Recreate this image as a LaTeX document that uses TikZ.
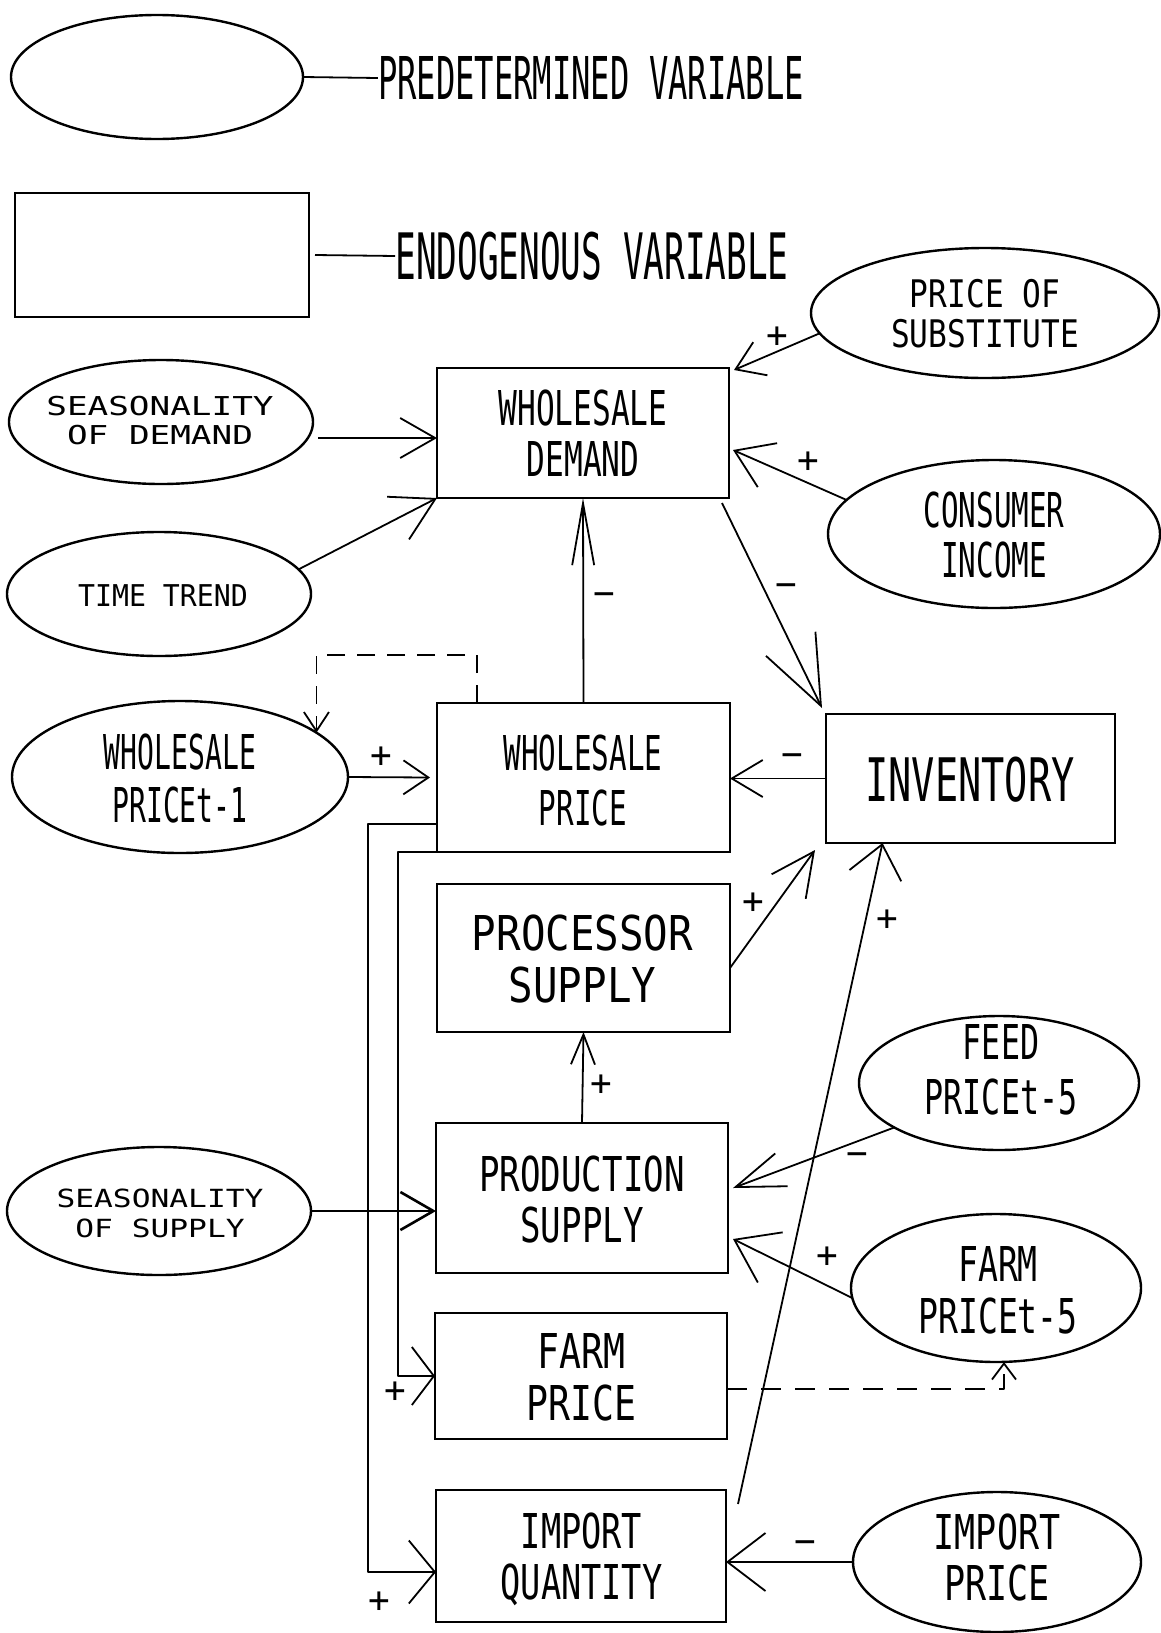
\documentclass[tikz,border=0pt]{standalone}
\usepackage{fontspec}
\usepackage{graphicx}
\usetikzlibrary{arrows.meta,shapes.geometric,calc}
\newfontfamily\plotfont{DejaVu Sans Mono}
\newcommand{\tx}[4]{\fontsize{#2}{#3}\plotfont
  \setbox\strutbox\hbox{\vrule height\dimexpr(#3pt+0.729\dimexpr#2pt\relax)/2\relax depth\dimexpr(#3pt-0.729\dimexpr#2pt\relax)/2\relax width0pt}%
  \scalebox{#1}[1]{\begin{tabular}{@{}c@{}}#4\end{tabular}}}
\tikzset{
  shp/.style={draw, line width=2.4pt, inner sep=0pt, outer sep=0pt},
  rbox/.style={shp, rectangle},
  ell/.style={shp, ellipse},
  lbl/.style={inner sep=0pt},
  sgn/.style={inner sep=0pt, font=\fontsize{36}{38}\plotfont},
  con/.style={line width=1.8pt, line join=round},
  dash1/.style={dash pattern=on 18pt off 12pt},
}
\begin{document}
\begin{tikzpicture}[x=1pt,y=-1pt]
\path[fill=white] (0,0) rectangle (1161,1633);
\useasboundingbox (0,0) rectangle (1161,1633);

% legend
\node[ell, minimum width=292pt, minimum height=124pt] (leg1) at (157,77) {};
\node[rbox, minimum width=294pt, minimum height=124pt] (leg2) at (162,255) {};
\node[lbl] (leg1t) at (591,78) {\tx{0.545}{59}{62}{PREDETERMINED VARIABLE}};
\node[lbl] (leg2t) at (592,256) {\tx{0.537}{64}{66}{ENDOGENOUS VARIABLE}};
\draw[con] (leg1.east) -- (leg1t.west);
\draw[con] ([xshift=6pt]leg2.east) -- (leg2t.west);

% predetermined variables (ellipses)
\node[ell, minimum width=348pt, minimum height=130pt] (pos) at (985,313) {};
\node[ell, minimum width=304pt, minimum height=124pt] (sod) at (161,422) {};
\node[ell, minimum width=304pt, minimum height=124pt] (tt) at (159,594) {};
\node[ell, minimum width=332pt, minimum height=148pt] (ci) at (994,534) {};
\node[ell, minimum width=336pt, minimum height=152pt] (wpt) at (180,777) {};
\node[ell, minimum width=280pt, minimum height=134pt] (feed) at (999,1083) {};
\node[ell, minimum width=304pt, minimum height=128pt] (sos) at (159,1211) {};
\node[ell, minimum width=290pt, minimum height=148pt] (fpt) at (996,1288) {};
\node[ell, minimum width=288pt, minimum height=140pt] (ip) at (997,1562) {};

% endogenous variables (boxes)
\node[rbox, minimum width=292pt, minimum height=130pt] (wd) at (583,433) {};
\node[rbox, minimum width=293pt, minimum height=149pt] (wp) at (583.5,777.5) {};
\node[rbox, minimum width=289pt, minimum height=129pt] (inv) at (970.5,778.5) {};
\node[rbox, minimum width=293pt, minimum height=148pt] (proc) at (583.5,958) {};
\node[rbox, minimum width=292pt, minimum height=150pt] (prod) at (582,1198) {};
\node[rbox, minimum width=292pt, minimum height=126pt] (fp) at (581,1376) {};
\node[rbox, minimum width=290pt, minimum height=132pt] (iq) at (581,1556) {};

% texts
\node[lbl] (post) at (985,314) {\tx{0.82}{38}{40}{PRICE OF\\SUBSTITUTE}};
\node[lbl] (sodt) at (160,421) {\tx{1.32}{26}{29}{SEASONALITY\\OF DEMAND}};
\node[lbl] (ttt) at (163,596) {\tx{0.94}{30}{32}{TIME TREND}};
\node[lbl] (cit) at (994,535) {\tx{0.61}{48}{50}{CONSUMER\\INCOME}};
\node[lbl] (wptt) at (180,778) {\tx{0.585}{48}{53}{WHOLESALE\\PRICEt-1}};
\node[lbl] (feedt) at (1001,1069) {\tx{0.66}{48}{55}{FEED\\PRICEt-5}};
\node[lbl] (sost) at (160,1213) {\tx{1.25}{25}{30}{SEASONALITY\\OF SUPPLY}};
\node[lbl] (fptt) at (998,1290) {\tx{0.69}{48}{52}{FARM\\PRICEt-5}};
\node[lbl] (ipt) at (997,1557) {\tx{0.73}{48}{51}{IMPORT\\PRICE}};

\node[lbl] (wdt) at (583,433) {\tx{0.65}{48}{51}{WHOLESALE\\DEMAND}};
\node[lbl] (wpt-t) at (583,780) {\tx{0.61}{48}{55}{WHOLESALE\\PRICE}};
\node[lbl] (invt) at (970,780) {\tx{0.643}{60}{62}{INVENTORY}};
\node[lbl] (proct) at (582.5,958.5) {\tx{0.85}{48}{52}{PROCESSOR\\SUPPLY}};
\node[lbl] (prodt) at (582,1199.5) {\tx{0.71}{48}{51}{PRODUCTION\\SUPPLY}};
\node[lbl] (fpt-t) at (581.5,1376.5) {\tx{0.76}{48}{52}{FARM\\PRICE}};
\node[lbl] (iqt) at (581.5,1556) {\tx{0.70}{48}{51}{IMPORT\\QUANTITY}};

% connectors
\draw[con, -{Straight Barb[length=27pt,width=36pt]}] (pos.187) -- ([xshift=5pt,yshift=-2pt]wd.north east);
\draw[con, -{Straight Barb[length=35pt,width=40pt]}] ($(sod.east |- wd.west)+(5,5)$) -- ($(wd.west)+(0,5)$);
\draw[con, -{Straight Barb[length=42pt,width=48pt]}] (tt.10) -- (wd.south west);
\draw[con, -{Straight Barb[length=36pt,width=48pt]}] (ci.167) -- ([xshift=4pt,yshift=-17pt]wd.east);
\draw[con, -{Straight Barb[length=69pt,width=55pt]}] ([xshift=-7pt,yshift=-5pt]wd.south east) -- ([xshift=-4pt,yshift=6pt]inv.north west);
\draw[con, -{Straight Barb[length=62pt,width=22pt]}] (wp.north) -- (wd.south);
\draw[con, dash1, -{Straight Barb[length=19pt,width=25pt]}] ([xshift=40pt]wp.north west) -- ++(0,-48) -| (wpt.18);
\draw[con, -{Straight Barb[length=25pt,width=34pt]}] (wpt.east) -- ([xshift=-7pt]wp.west);
\draw[con, -{Straight Barb[length=31pt,width=37pt]}] (inv.west) -- (inv.west -| wp.east);
\draw[con, -{Straight Barb[length=43pt,width=42pt]}] ([yshift=-10pt]proc.east) -- ([xshift=-11pt,yshift=-7pt]inv.south west);
\draw[con, -{Straight Barb[length=32pt,width=53pt]}] ([xshift=12pt,yshift=-14pt]iq.north east) -- ([xshift=-88pt]inv.south);
\draw[con, -{Straight Barb[length=30pt,width=24pt]}] (prod.north) -- (proc.south);
\draw[con, -{Straight Barb[length=49pt,width=35pt]}] (feed.203) -- ([xshift=5pt,yshift=10pt]prod.east);
\draw[con, -{Straight Barb[length=40pt,width=56pt]}] (fpt.184) -- ([xshift=5pt,yshift=-41pt]prod.east);
\draw[line width=2.6pt, -{Straight Barb[length=33pt,width=38pt]}] (sos.east) -- (sos.east -| prod.west);
\draw[con, -{Straight Barb[length=22pt,width=58pt]}] (wp.south west) -- ++(-39,0) |- (fp.west);
\draw[con, -{Straight Barb[length=26pt,width=63pt]}] ([yshift=28pt]wp.south west) -- ++(-69,0) |- ([yshift=-16pt]iq.west);
\draw[con, dash pattern=on 20pt off 14pt, -{Straight Barb[length=16pt,width=24pt]}] ([yshift=-13pt]fp.east) -| ([xshift=8pt]fpt.south);
\draw[con, -{Straight Barb[length=38pt,width=58pt]}] (ip.west) -- (ip.west -| iq.east);

% signs
\node[sgn] (s1) at (777,337) {+};
\node[sgn] (s2) at (808,462) {+};
\node[sgn] (s3) at (786,590) {−};
\node[sgn] (s4) at (604,599) {−};
\node[sgn] (s5) at (381,757) {+};
\node[sgn] (s6) at (792,760) {−};
\node[sgn] (s7) at (753,903) {+};
\node[sgn] (s8) at (887,920) {+};
\node[sgn] (s9) at (601,1085) {+};
\node[sgn] (s10) at (857,1159) {−};
\node[sgn] (s11) at (827,1257) {+};
\node[sgn] (s12) at (395,1392) {+};
\node[sgn] (s13) at (379,1602) {+};
\node[sgn] (s14) at (805,1547) {−};
\end{tikzpicture}
\end{document}
